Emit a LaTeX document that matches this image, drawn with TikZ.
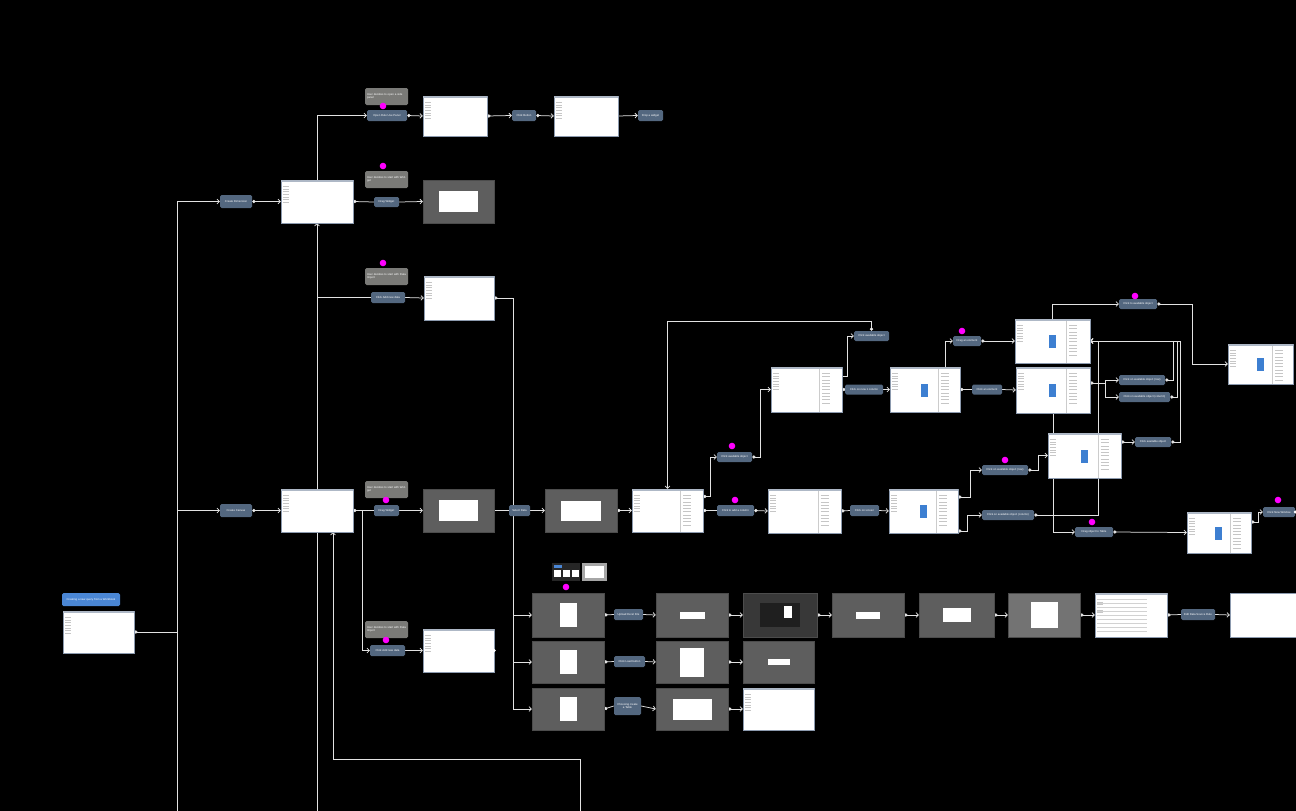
\documentclass[tikz,border=0pt]{standalone}
\usepackage{fontspec}
\setmainfont{Liberation Sans}
\usetikzlibrary{arrows.meta,calc}
\pgfdeclarelayer{back}\pgfdeclarelayer{bg}\pgfsetlayers{back,bg,main}
\definecolor{actc}{HTML}{53677F}
\definecolor{notec}{HTML}{7A7A77}
\definecolor{startc}{HTML}{4A86D4}
\definecolor{linec}{HTML}{E2E2E2}
\definecolor{gshotc}{HTML}{5E5E5E}
\definecolor{magc}{HTML}{FF00FF}
\definecolor{framec}{HTML}{8C9AAE}
\definecolor{bluesq}{HTML}{3D7FD1}
\tikzset{
 sz/.style 2 args={minimum width=#1pt, minimum height=#2pt},
 lbl/.style={font=\fontsize{2.8}{3.3}\selectfont},
 act/.style={lbl, rectangle, rounded corners=1.5pt, fill=actc, text=white, inner sep=0.5pt, align=center},
 startn/.style={act, fill=startc},
 note/.style={lbl, rectangle, rounded corners=1.5pt, fill=notec, text=white, inner sep=1.5pt, text width=39pt, align=left, sz={43}{17}},
 shot/.style={rectangle, draw=framec, line width=0.5pt, fill=white, inner sep=0},
 gshot/.style={shot, fill=gshotc, draw=black!70},
 plain/.style={draw=linec, line width=0.75pt},
 conn/.style={plain, -{Straight Barb[length=2.3pt,width=4.8pt]}},
 dotconn/.style={plain, {Circle[length=3.3pt,fill=white]}-{Straight Barb[length=2.3pt,width=4.8pt]}},
 dotline/.style={plain, {Circle[length=3.3pt,fill=white]}-},
}
\newcommand\uideco[1]{%
 \fill[framec!70] ($(#1.north west)+(0.3,0.3)$) rectangle ($(#1.north east)+(-0.3,2)$);
 \foreach \k in {1,...,7} \draw[gray!45,line width=0.3pt] ($(#1.north west)+(2.5,4+2.6*\k)$) -- ++(6,0);}
\newcommand\paneldeco[1]{%
 \draw[gray!40,line width=0.3pt] ($(#1.north west)!0.68!(#1.north east)+(0,2)$) -- ($(#1.south west)!0.68!(#1.south east)$);
 \foreach \k in {1,...,10} \draw[gray!45,line width=0.3pt] ($(#1.north west)!0.72!(#1.north east)+(0,3+3.3*\k)$) -- ++(8,0);}
\newcommand\dlg[3]{\fill[white] ($(#1.center)+(-#2/2,-#3/2)$) rectangle ++(#2,#3);}
\newcommand\bsq[1]{\fill[bluesq] ($(#1.center)+(-4,-6)$) rectangle ++(7,13);}
\newcommand\mdot[2]{\fill[magc] (#1,#2) circle (3.3pt);}
\begin{document}
\begin{tikzpicture}[x=1pt,y=-1pt]
\begin{pgfonlayer}{back}
\fill[black] (0,0) rectangle (1296,811);
\end{pgfonlayer}
\useasboundingbox (0,0) rectangle (1296,811);

% ---- left part
\node[startn, sz={58}{13}] (st) at (91,599.5) {Creating a new query from a Workbook};
\node[shot, sz={71}{42}] (s0) at (98.5,632) {};
\coordinate (tr) at (177,632);
\coordinate (tb) at (177,811);
\node[act, sz={32}{13}] (cd) at (236,201.5) {Create Dimension};
\node[act, sz={32}{13}] (cc) at (236,510.5) {Create Canvas};
\node[shot, sz={72}{43}] (s1) at (317,201.5) {};
\node[shot, sz={72}{43}] (s5) at (317,510.5) {};

% row 1
\node[note] (n1) at (386.5,96.5) {User decides to open a side panel};
\node[act, sz={40}{11}] (orp) at (387,115.5) {Open Rule Use Panel};
\node[shot, sz={64}{40}] (s1a) at (455,116) {};
\node[act, sz={24}{11}] (cb) at (524,115.5) {Click Button};
\node[shot, sz={64}{40}] (s1b) at (586,116) {};
\node[act, sz={25}{11}] (dw) at (650.5,115.5) {Drop a widget};
% row 2
\node[note] (n2) at (386.5,179.5) {User decides to start with Widget};
\node[act, sz={25}{10}] (dw1) at (386.5,202) {Drag Widget};
\node[gshot, sz={71}{43}] (s2) at (458.5,201.5) {};
% row 3
\node[note] (n3) at (386.5,276.5) {User decides to start with Data Import};
\node[act, sz={34}{11}] (ad1) at (388,297.5) {Click Add new data};
\node[shot, sz={70}{44}] (s3) at (459,298) {};
% row 5
\node[note] (n5) at (386.5,489.5) {User decides to start with Widget};
\node[act, sz={25}{11}] (dw2) at (386.5,510.5) {Drag Widget};
\node[gshot, sz={71}{43}] (s5g) at (458.5,510.5) {};
\node[note] (n6) at (386.5,629.5) {User decides to start with Data Import};
\node[act, sz={35}{11}] (ad2) at (387.5,650.5) {Click Add new data};
\node[shot, sz={71}{43}] (s6) at (458.5,650.5) {};
\node[act, sz={21}{11}] (sd) at (519.5,510.5) {Select Data};
\node[gshot, sz={72}{43}] (sa) at (581,510.5) {};
\node[shot, sz={71}{43}] (A) at (667.5,510.5) {};

% bottom rows
\node[gshot, sz={72}{44}] (g1) at (568,615) {};
\node[act, sz={29}{11}] (up) at (628.5,614.5) {Upload Excel File};
\node[gshot, sz={72}{44}] (g1b) at (692,615) {};
\node[gshot, sz={74}{44}, fill=black!78] (g1c) at (780,615) {};
\node[gshot, sz={72}{44}] (g1d) at (868,615) {};
\node[gshot, sz={75}{44}] (g1e) at (956.5,615) {};
\node[gshot, sz={72}{44}, fill=black!55] (g1f) at (1044,615) {};
\node[shot, sz={72}{44}] (g1g) at (1131,615) {};
\node[act, sz={34}{11}] (eds) at (1198,614.5) {Edit Data Source Rule};
\node[shot, sz={68}{44}] (g1h) at (1264,615) {};
\node[gshot, sz={72}{42}] (g2) at (568,662) {};
\node[act, sz={31}{11}] (ld) at (629.5,661.5) {Click Load button};
\node[gshot, sz={72}{42}] (g2b) at (692,662) {};
\node[gshot, sz={71}{42}] (g2c) at (778.5,662) {};
\node[gshot, sz={72}{42}] (g3) at (568,709) {};
\node[act, sz={27}{18}] (ch) at (627.5,706) {Choosing create\\a Table};
\node[gshot, sz={72}{42}] (g3b) at (692,709) {};
\node[shot, sz={71}{42}] (g3c) at (778.5,709) {};

% upper right network
\node[act, sz={35}{10}] (na1) at (734.5,457) {Click available object};
\node[act, sz={37}{11}] (nac) at (735.5,510.5) {Click to add a column};
\node[shot, sz={71}{45}] (B) at (806.5,389.5) {};
\node[shot, sz={73}{44}] (C) at (804.5,511) {};
\node[act, sz={29}{11}] (ns) at (864.5,510.5) {Click on screen};
\node[shot, sz={69}{44}] (D) at (923.5,511) {};
\node[act, sz={35}{10}] (na2) at (871.5,336) {Click available object};
\node[act, sz={38}{10}] (nnc) at (864,389.5) {Click on new 1 column};
\node[shot, sz={70}{45}] (E) at (925,389.5) {};
\node[act, sz={28}{10}] (nde) at (967,341) {Drag an element};
\node[act, sz={30}{10}] (nce) at (987,389.5) {Click an element};
\node[shot, sz={75}{44}] (F) at (1052.5,341) {};
\node[shot, sz={74}{46}] (G) at (1053,390) {};
\node[act, sz={38}{10}] (nta) at (1138,304) {Click to available object};
\node[shot, sz={65}{40}] (H) at (1260.5,364) {};
\node[act, sz={46}{10}] (nr) at (1142,380) {Click on available object (row)};
\node[act, sz={51}{10}] (ncl) at (1144.5,397) {Click on available object (column)};
\node[shot, sz={73}{45}] (I) at (1084.5,455.5) {};
\node[act, sz={36}{10}] (na3) at (1153,442) {Click available object};
\node[act, sz={46}{10}] (nr2) at (1005,470) {Click on available object (row)};
\node[act, sz={52}{10}] (nc2) at (1008,515) {Click on available object (column)};
\node[act, sz={38}{10}] (ndt) at (1094,532) {Drag object to Table};
\node[shot, sz={64}{41}] (J) at (1219,532.5) {};
\node[act, sz={32}{10}] (nnw) at (1279,512) {Click New Window};

% ---- screenshot details
\foreach \s in {s0,s1,s5,s1a,s1b,s3,s6,A,B,C,D,E,F,G,H,I,J,g1g,g3c} {\uideco{\s}}
\foreach \s in {A,B,C,D,E,F,G,H,I,J} {\paneldeco{\s}}
\foreach \s in {D,E,F,G,H,I,J} {\bsq{\s}}
\dlg{s2}{39}{21}\dlg{s5g}{39}{21}\dlg{sa}{40}{20}
\dlg{g1}{17}{24}\dlg{g2}{17}{24}\dlg{g3}{17}{24}
\dlg{g1b}{25}{7}\dlg{g1d}{24}{7}\dlg{g1e}{28}{14}\dlg{g1f}{27}{26}
\dlg{g2b}{24}{29}\dlg{g2c}{22}{6}\dlg{g3b}{39}{21}
\fill[black!88] ($(g1c.center)+(-20,-12)$) rectangle ++(40,24);
\fill[white] ($(g1c.center)+(4,-9)$) rectangle ++(8,12);
\foreach \k in {0,...,8} \draw[gray!35,line width=0.3pt] ($(g1g.north west)+(2,6+4*\k)$) -- ++(50,0);
% thumbnail cluster
\fill[black!85] (552,563) rectangle (580,581);
\fill[startc] (554,565) rectangle (562,568);
\foreach \xx in {554,563,572} \fill[white] (\xx,570) rectangle ++(7,7);
\fill[gray!70] (582,563) rectangle (607,581);
\fill[white] (585,566) rectangle (604,578);

% magenta markers
\mdot{383}{106}\mdot{383}{166}\mdot{383}{263}\mdot{386}{500}\mdot{386}{640}
\mdot{566}{587}\mdot{732}{446}\mdot{735}{500}\mdot{962}{331}\mdot{1135}{296}
\mdot{1005}{460}\mdot{1092}{522}\mdot{1278}{500}

% ---- connectors
\begin{pgfonlayer}{bg}
\draw[dotline] (s0.east) -- (tr);
\draw[conn] (tb) |- (cd.west);
\draw[conn] (tr) |- (cc.west);
\draw[dotconn] (cd.east) -- (s1.west);
\draw[dotconn] (cc.east) -- (s5.west);
\draw[conn] (s1.north) |- (orp.west);
\draw[dotconn] (orp.east) -- (s1a.west);
\draw[dotconn] (s1a.east) -- (cb.west);
\draw[dotconn] (cb.east) -- (s1b.west);
\draw[conn] (s1b.east) -- (dw.west);
\draw[dotline] (s1.east) -- (dw1.west);
\draw[conn] (dw1.east) -- (s2.west);
\draw[conn] (s5.north) -- (s1.south);
\draw[plain] (s5.north) |- (ad1.west);
\draw[conn] (ad1.east) -- (s3.west);
\coordinate (vj) at (513,298);
\draw[dotconn] (s3.east) -- (vj) |- (g1.west);
\draw[conn] (vj) |- (g2.west);
\draw[conn] (vj) |- (g3.west);
\draw[dotline] (s5.east) -- (dw2.west);
\coordinate (bj) at (362,510.5);
\draw[conn] (bj) |- (ad2.west);
\draw[conn] (dw2.east) -- (s5g.west);
\draw[conn] (ad2.east) -- (s6.west);
\draw[plain] (s5g.east) -- (sd.west);
\draw[conn] (sd.east) -- (sa.west);
\draw[dotconn] (sa.east) -- (A.west);
\coordinate (sb) at (317,811);
\draw[plain] (s5.south) -- (sb);
\coordinate (bb) at (580,811);
\draw[conn] (bb) -- ++(0,-52) -| ($(s5.south)+(16,0)$);
% bottom rows
\draw[dotline] (g1.east) -- (up.west);
\draw[conn] (up.east) -- (g1b.west);
\draw[dotconn] (g1b.east) -- (g1c.west);
\draw[dotconn] (g1c.east) -- (g1d.west);
\draw[dotconn] (g1d.east) -- (g1e.west);
\draw[dotconn] (g1e.east) -- (g1f.west);
\draw[dotconn] (g1f.east) -- (g1g.west);
\draw[dotline] (g1g.east) -- (eds.west);
\draw[conn] (eds.east) -- (g1h.west);
\draw[dotline] (g2.east) -- (ld.west);
\draw[conn] (ld.east) -- (g2b.west);
\draw[dotconn] (g2b.east) -- (g2c.west);
\draw[dotline] (g3.east) -- (ch.west);
\draw[conn] (ch.east) -- (g3b.west);
\draw[dotconn] (g3b.east) -- (g3c.west);
% upper right
\draw[dotconn] ($(A.east)+(0,-14)$) -- ++(7,0) |- (na1.west);
\draw[dotconn] (na1.east) -- ++(8,0) |- (B.west);
\draw[dotline] (A.east) -- (nac.west);
\draw[dotconn] (nac.east) -- (C.west);
\draw[dotline] (C.east) -- (ns.west);
\draw[conn] (ns.east) -- (D.west);
\draw[dotline] (B.east) -- (nnc.west);
\draw[conn] (nnc.east) -- (E.west);
\draw[conn] ($(B.east)+(0,-13)$) -- ++(5,0) |- (na2.west);
\draw[dotconn] (na2.north) -- ++(0,-9) -| (A.north);
\draw[conn] ($(E.north)+(20,0)$) |- (nde.west);
\draw[dotconn] (nde.east) -- (F.west);
\draw[dotline] (E.east) -- (nce.west);
\draw[conn] (nce.east) -- (G.west);
\draw[conn] (F.north) |- (nta.west);
\draw[dotconn] (nta.east) -- ++(35,0) |- (H.west);
\draw[dotconn] ($(G.east)+(0,-7)$) -- ++(15,0) |- (nr.west);
\draw[conn] ($(G.east)+(0,-7)$) -- ++(15,0) |- (ncl.west);
\draw[dotconn] (nr.east) -- ++(8,0) |- (F.east);
\draw[dotconn] (ncl.east) -- ++(7,0) |- (F.east);
\draw[dotconn] ($(I.east)+(0,-13.5)$) -- (na3.west);
\draw[dotconn] (na3.east) -- ++(9,0) |- (F.east);
\draw[dotconn] ($(D.east)+(0,-14)$) -- ++(12,0) |- (nr2.west);
\draw[dotconn] ($(D.east)+(0,20)$) -- ++(9,0) |- (nc2.west);
\draw[dotconn] (nr2.east) -- ++(10,0) |- (I.west);
\draw[dotconn] (nc2.east) -- ++(64,0) |- (F.east);
\draw[conn] (G.south) |- (ndt.west);
\draw[dotconn] (ndt.east) -- (J.west);
\draw[dotconn] ($(J.east)+(0,-10.5)$) -- ++(7,0) |- (nnw.west);
\end{pgfonlayer}
\fill[white] (s6.east) circle (1.6pt);
\fill[white] (nnw.east) circle (1.6pt);
\end{tikzpicture}
\end{document}
